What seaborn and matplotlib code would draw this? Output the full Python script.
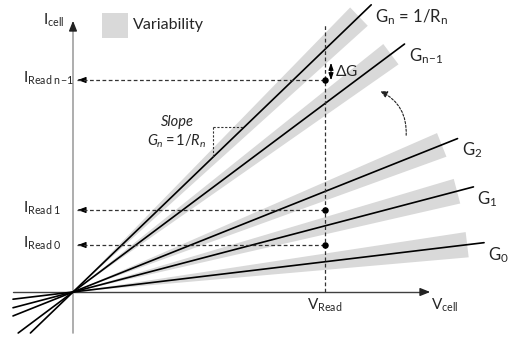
import matplotlib.pyplot as plt
import seaborn as sns
import numpy as np
from matplotlib.patches import Polygon, Rectangle, FancyArrowPatch

# Conductance levels (slopes of the I-V lines), in drawing units
conductances = [0.120, 0.2625, 0.399, 0.748, 0.963]
level_labels = [r'G$_0$', r'G$_1$', r'G$_2$', r'G$_{\mathrm{n\!-\!1}}$',
                r'G$_\mathrm{n}$ = 1/R$_\mathrm{n}$']

# Read operation
v_read = 252
i_read = [47, 82, 212]
i_read_labels = [r'I$_{\mathrm{Read\ 0}}$', r'I$_{\mathrm{Read\ 1}}$', r'I$_{\mathrm{Read\ n\!-\!1}}$']

# Constants for the drawing
LINE_LEN = 414
BAND_LEN = 397
BAND_HALF_ANGLE = 0.032
BAND_COLOR = '#d9d9d9'
FONT = 11

sns.set_theme(style='white')
plt.rcParams['font.family'] = ['Lato', 'DejaVu Sans']
plt.rcParams['mathtext.fontset'] = 'custom'
plt.rcParams['mathtext.rm'] = 'Lato'
plt.rcParams['mathtext.it'] = 'Lato:italic'

fig = plt.figure(figsize=(5.16, 3.37), dpi=100)
ax = fig.add_axes([0, 0, 1, 1])
ax.set_xlim(-73, 443)
ax.set_ylim(-45, 292)
ax.axis('off')

# Variability bands and conductance lines
for g, label in zip(conductances, level_labels):
    th = np.arctan(g)
    ux, uy = np.cos(th), np.sin(th)
    w = BAND_LEN * np.tan(BAND_HALF_ANGLE)
    cx, cy = BAND_LEN * ux, BAND_LEN * uy
    band = Polygon([(0, 0), (cx - w * uy, cy + w * ux), (cx + w * uy, cy - w * ux)],
                   closed=True, facecolor=BAND_COLOR, edgecolor='none', zorder=1)
    ax.add_patch(band)
    x_left = max(-60, -41 / g)
    x_right = LINE_LEN * ux
    sns.lineplot(x=[x_left, x_right], y=[g * x_left, g * x_right], ax=ax,
                 color='black', linewidth=1.2, zorder=3)
    ax.text(x_right + 4, g * x_right - 12, label, fontsize=12, ha='left', va='center')

# Axes with arrows
ax.plot([0, 0], [-41, 266], color='#a0a0a0', linewidth=1.2, zorder=2)
ax.annotate('', xy=(0, 274), xytext=(0, 264),
            arrowprops=dict(arrowstyle='-|>,head_width=0.2,head_length=0.5', color='#222222', lw=1))
ax.plot([-60, 352], [0, 0], color='#404040', linewidth=1.0, zorder=2)
ax.annotate('', xy=(360, 0), xytext=(350, 0),
            arrowprops=dict(arrowstyle='-|>,head_width=0.2,head_length=0.5', color='#222222', lw=1))

# Read voltage and read currents
ax.plot([v_read, v_read], [0, 267], color='#333333', linewidth=0.9, linestyle=(0, (3, 2)), zorder=4)
for i_val, lab in zip(i_read, i_read_labels):
    ax.plot([4, v_read], [i_val, i_val], color='#333333', linewidth=0.9, linestyle=(0, (3, 2)), zorder=4)
    ax.annotate('', xy=(2, i_val), xytext=(9, i_val),
                arrowprops=dict(arrowstyle='-|>,head_width=0.15,head_length=0.4', color='black', lw=0.8))
    ax.text(-50, i_val + 2, lab, fontsize=FONT, ha='left', va='center')
sns.scatterplot(x=[v_read] * len(i_read), y=i_read, ax=ax, color='black', s=22,
                linewidth=0, zorder=5)

# Delta G arrow
ax.annotate('', xy=(258, 232), xytext=(258, 209),
            arrowprops=dict(arrowstyle='<|-|>,head_width=0.12,head_length=0.35', color='black', lw=0.8))
ax.text(262, 221, r'$\Delta$G', fontsize=FONT, ha='left', va='center')

# Slope annotation
ax.text(104, 170, 'Slope', fontsize=FONT - 0.5, style='italic', ha='center', va='center')
ax.text(104, 151, r'$\mathit{G_n = 1/R_n}$', fontsize=FONT - 0.5, ha='center', va='center')
corner_x, corner_y = 140, 165
g_top = conductances[-1]
ax.plot([corner_x, corner_y / g_top], [corner_y, corner_y], color='#333333',
        linewidth=0.8, linestyle=(0, (2, 1.5)), zorder=4)
ax.plot([corner_x, corner_x], [corner_y, g_top * corner_x], color='#333333',
        linewidth=0.8, linestyle=(0, (2, 1.5)), zorder=4)

# Curved arrow (programming towards higher conductance)
ax.add_patch(FancyArrowPatch((333, 154), (305, 202), connectionstyle='arc3,rad=0.35',
                             arrowstyle='-|>,head_width=2,head_length=4', color='#222222',
                             linewidth=0.8, linestyle=(0, (2, 1.5)), zorder=4))

# Legend for variability
ax.add_patch(Rectangle((29, 254), 26, 25, facecolor=BAND_COLOR, edgecolor='none'))
ax.text(60, 267, 'Variability', fontsize=FONT + 0.5, ha='left', va='center')

# Axis labels
ax.text(-19, 272, r'I$_{\mathrm{cell}}$', fontsize=FONT, ha='center', va='center')
ax.text(v_read, -13, r'V$_{\mathrm{Read}}$', fontsize=FONT, ha='center', va='center')
ax.text(372, -13, r'V$_{\mathrm{cell}}$', fontsize=FONT, ha='center', va='center')

fig.savefig('out.png', dpi=100)
